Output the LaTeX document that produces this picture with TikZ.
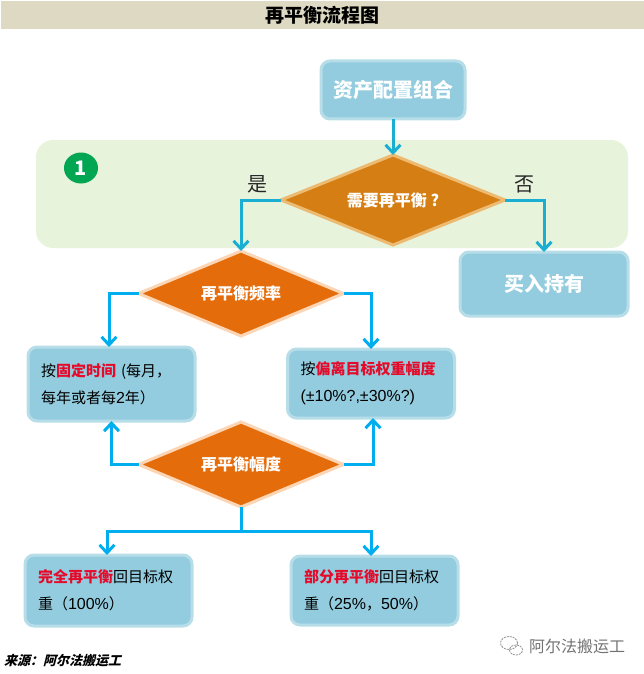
\documentclass[tikz,border=0pt]{standalone}
\usepackage{fontspec}
\setmainfont{Noto Sans CJK SC}
\newfontfamily\sourcefont{Noto Sans CJK SC}[BoldFeatures={FakeSlant=0.25}]
\newfontfamily\latinfont{Liberation Sans}
\usepackage{xcolor}
\usetikzlibrary{arrows.meta,positioning,shapes.geometric}
\definecolor{titlefill}{HTML}{DDD9C3}
\definecolor{panelfill}{HTML}{E8F3DC}
\definecolor{badgefill}{HTML}{00A651}
\definecolor{boxfill}{HTML}{93CCDF}
\definecolor{boxedge}{HTML}{B7DEE8}
\definecolor{needfill}{HTML}{D47E14}
\definecolor{neededge}{HTML}{ECBA70}
\definecolor{stepfill}{HTML}{E46C0A}
\definecolor{stepedge}{HTML}{FCD5B5}
\definecolor{linkblue}{HTML}{00AEEF}
\definecolor{linkteal}{HTML}{1AAFD2}
\definecolor{redtext}{HTML}{E60A2A}
\newcommand{\hl}[1]{\textcolor{redtext}{\textbf{#1}}}
\newcommand{\lat}[1]{{\latinfont\fontsize{16}{27}\selectfont #1}}

\begin{document}
\begin{tikzpicture}[
        x=1pt, y=1pt,
        block/.style={draw=boxedge, line width=3pt, rounded corners=9pt, fill=boxfill, outer sep=0pt, text=white, font=\fontsize{20}{24}\selectfont\bfseries, align=center},
        textbox/.style={block, text=black, font=\fontsize{15}{27}\selectfont, align=left, inner xsep=13pt, inner ysep=0pt, text width=141pt, minimum width=167pt},
        decide/.style={diamond, aspect=2.4, draw=stepedge, fill=stepfill, line width=3pt, inner sep=0pt, outer sep=0pt, minimum width=205pt, minimum height=85pt, text=white, font=\fontsize{16}{20}\selectfont\bfseries},
        tag/.style={inner sep=0pt, font=\fontsize{20}{24}\selectfont, text=black!85},
        arrow/.style={-{Straight Barb[length=8pt, width=15pt, line width=3pt]}, line width=3pt, linkblue},
        tealarrow/.style={arrow, linkteal}
    ]
    \useasboundingbox (0,0) rectangle (644,-674);
    % Nodes
    \node[fill=titlefill, minimum width=643pt, minimum height=28pt, inner sep=0pt, font=\fontsize{19}{22}\selectfont\bfseries] (title) at (322.5,-15) {再平衡流程图};
    \node[fill=panelfill, rounded corners=17pt, minimum width=592pt, minimum height=108pt, inner sep=0pt] (panel) at (332,-194) {};
    \node[ellipse, fill=badgefill, minimum width=34pt, minimum height=31pt, inner sep=0pt, text=white, font=\fontsize{20}{24}\selectfont\bfseries] (badge) at (81,-168) {1};
    \node[block, minimum width=144pt, minimum height=58pt] (assets) at (393,-90) {资产配置组合};
    \node[decide, draw=neededge, fill=needfill, minimum width=224pt, minimum height=90pt, below=36pt of assets] (need) {需要再平衡 ?};
    \node[tag, above left=7pt and 13pt of need.west] (yes) {是};
    \node[tag, above right=7pt and 9pt of need.east] (no) {否};
    \node[block, minimum width=168pt, minimum height=64pt, below=7pt of need, xshift=151pt] (hold) {买入持有};
    \node[decide, below=6pt of need, xshift=-152pt] (freq) {再平衡频率};
    \node[textbox, minimum height=74pt, below=11pt of freq, xshift=-129.5pt] (fixed) {按\hl{固定时间} (每月，\\每年或者每\lat{2}年）};
    \node[textbox, minimum width=166pt, minimum height=69pt, below=13pt of freq, xshift=130pt] (deviate) {按\hl{偏离目标权重幅度}\\\lat{(±10\%?,±30\%?)}};
    \node[decide, below=86pt of freq] (range) {再平衡幅度};
    \coordinate[below=24pt of range] (branch);
    \node[textbox, minimum height=71pt, below=48pt of range, xshift=-132.5pt] (full) {\hl{完全再平衡}回目标权\\重（\lat{100\%}）};
    \node[textbox, minimum height=69pt, below=49pt of range, xshift=133.5pt] (part) {\hl{部分再平衡}回目标权\\重（\lat{25\%}，\lat{50\%}）};
    \node[inner sep=0pt, anchor=west, font=\fontsize{13}{16}\selectfont\sourcefont\bfseries] (source) at (4,-661) {来源：阿尔法搬运工};
    \node[inner sep=0pt, text=black!55, font=\fontsize{16}{20}\selectfont] (mark) at (577,-646) {阿尔法搬运工};
    % Watermark icon
    \draw[black!45, line width=0.8pt, dash pattern=on 2pt off 1pt] (509,-643) ellipse (8.5pt and 6.5pt);
    \draw[black!45, line width=0.8pt, dash pattern=on 2pt off 1pt] (516,-650) ellipse (6.5pt and 5pt);
    % Arrows
    \draw[tealarrow] (assets) -- (need);
    \draw[tealarrow] (need.west) -| (freq.north);
    \draw[tealarrow] (need.east) -| (hold.north);
    \draw[arrow] (freq.west) -| ([xshift=-2.5pt]fixed.north);
    \draw[arrow] (freq.east) -| (deviate.north);
    \draw[arrow] (range.west) -| (fixed.south);
    \draw[arrow] (range.east) -| ([xshift=2pt]deviate.south);
    \draw[arrow, -] (range.south) -- (branch);
    \draw[arrow] (branch) -| ([xshift=-1.5pt]full.north);
    \draw[arrow] (branch) -| ([xshift=-3.5pt]part.north);
\end{tikzpicture}
\end{document}
